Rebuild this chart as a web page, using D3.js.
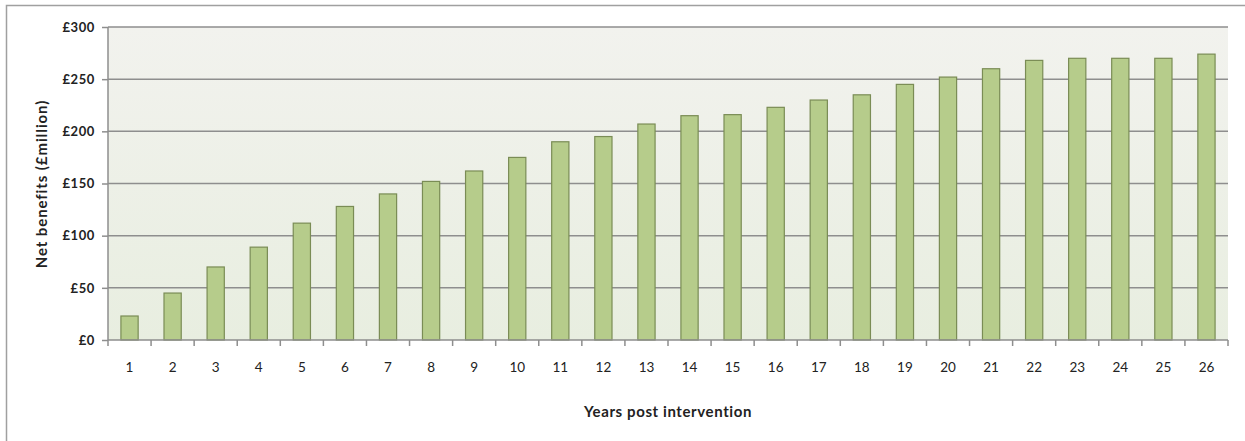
<!DOCTYPE html>
<html>
<head>
<meta charset="utf-8">
<script src="https://cdn.jsdelivr.net/npm/d3@7"></script>
<style>
  body { margin: 0; background: #fff; }
  text { font-family: Lato, "Open Sans", sans-serif; }
</style>
</head>
<body>
<div id="chart"></div>
<script>
var years = ["1","2","3","4","5","6","7","8","9","10","11","12","13",
             "14","15","16","17","18","19","20","21","22","23","24","25","26"];
var netBenefits = [23, 45, 70, 89, 112, 128, 140, 152, 162, 175, 190, 195, 207,
                   215, 216, 223, 230, 235, 245, 252, 260, 268, 270, 270, 270, 274];
var yTicks = [0, 50, 100, 150, 200, 250, 300];

var W = 1245, H = 441;
var margin = {top: 27, right: 17, bottom: 101, left: 108},
    width = W - margin.left - margin.right,
    height = H - margin.top - margin.bottom;

var svg = d3.select("#chart").append("svg")
    .attr("width", W)
    .attr("height", H);

// outer frame (only left and top edges show in the picture)
svg.append("path")
    .attr("d", "M6.5,441 L6.5,5.5 L1245,5.5")
    .attr("fill", "none")
    .attr("stroke", "#a0a0a0")
    .attr("stroke-width", 1.5);

var grad = svg.append("defs").append("linearGradient")
    .attr("id", "bg").attr("x1", 0).attr("y1", 0).attr("x2", 0).attr("y2", 1);
grad.append("stop").attr("offset", "0%").attr("stop-color", "#f2f2ee");
grad.append("stop").attr("offset", "100%").attr("stop-color", "#e8eee0");

var g = svg.append("g")
    .attr("transform", "translate(" + margin.left + "," + margin.top + ")");

var x = d3.scaleBand()
    .domain(years)
    .range([0, width])
    .paddingInner(0.6)
    .paddingOuter(0.3);

var y = d3.scaleLinear()
    .domain([0, 300])
    .range([height, 0]);

g.append("rect")
    .attr("width", width)
    .attr("height", height)
    .attr("fill", "url(#bg)");

// gridlines
g.selectAll(".grid")
    .data(yTicks.slice(1))
  .enter().append("line")
    .attr("class", "grid")
    .attr("x1", 0).attr("x2", width)
    .attr("y1", function(d) { return y(d); })
    .attr("y2", function(d) { return y(d); })
    .attr("stroke", "#8e8e8e")
    .attr("stroke-width", 1.5);

g.selectAll(".bar")
    .data(netBenefits)
  .enter().append("rect")
    .attr("class", "bar")
    .attr("x", function(d, i) { return x(years[i]); })
    .attr("width", x.bandwidth())
    .attr("y", function(d) { return y(d); })
    .attr("height", function(d) { return height - y(d); })
    .attr("fill", "#b6cc8b")
    .attr("stroke", "#7a8c55")
    .attr("stroke-width", 1.2);

// y axis
var yAxis = g.append("g")
    .call(d3.axisLeft(y).tickValues(yTicks).tickSize(6).tickPadding(7)
      .tickFormat(function(d) { return "£" + d; }));
yAxis.select(".domain").attr("stroke", "#8e8e8e").attr("stroke-width", 1.5)
    .attr("d", "M0,0V" + height);
yAxis.selectAll(".tick line").attr("stroke", "#8e8e8e").attr("stroke-width", 1.5);
yAxis.selectAll(".tick text")
    .attr("font-family", "Lato, sans-serif")
    .attr("font-size", 13)
    .attr("font-weight", "bold")
    .attr("letter-spacing", 0.6)
    .attr("fill", "#222");

// x axis, ticks sit between the bars
var xg = g.append("g").attr("transform", "translate(0," + height + ")");
xg.append("line")
    .attr("x1", 0).attr("x2", width)
    .attr("stroke", "#8e8e8e").attr("stroke-width", 1.5);
var bounds = d3.range(years.length + 1).map(function(i) { return i * x.step(); });
xg.selectAll(".xtick")
    .data(bounds)
  .enter().append("line")
    .attr("x1", function(d) { return d; })
    .attr("x2", function(d) { return d; })
    .attr("y1", 0).attr("y2", 6)
    .attr("stroke", "#8e8e8e").attr("stroke-width", 1.5);
xg.selectAll(".xlabel")
    .data(years)
  .enter().append("text")
    .attr("x", function(d) { return x(d) + x.bandwidth() / 2; })
    .attr("y", 32)
    .attr("text-anchor", "middle")
    .attr("font-size", 13.5)
    .attr("fill", "#222")
    .text(function(d) { return d; });

// axis titles
svg.append("text")
    .attr("x", margin.left + width / 2)
    .attr("y", 417)
    .attr("text-anchor", "middle")
    .attr("font-size", 15)
    .attr("font-weight", "bold")
    .attr("letter-spacing", 0.6)
    .attr("fill", "#222")
    .text("Years post intervention");

svg.append("text")
    .attr("transform", "translate(47,184) rotate(-90)")
    .attr("text-anchor", "middle")
    .attr("font-size", 15)
    .attr("font-weight", "bold")
    .attr("letter-spacing", 0.9)
    .attr("fill", "#222")
    .text("Net benefits (£million)");
</script>
</body>
</html>
